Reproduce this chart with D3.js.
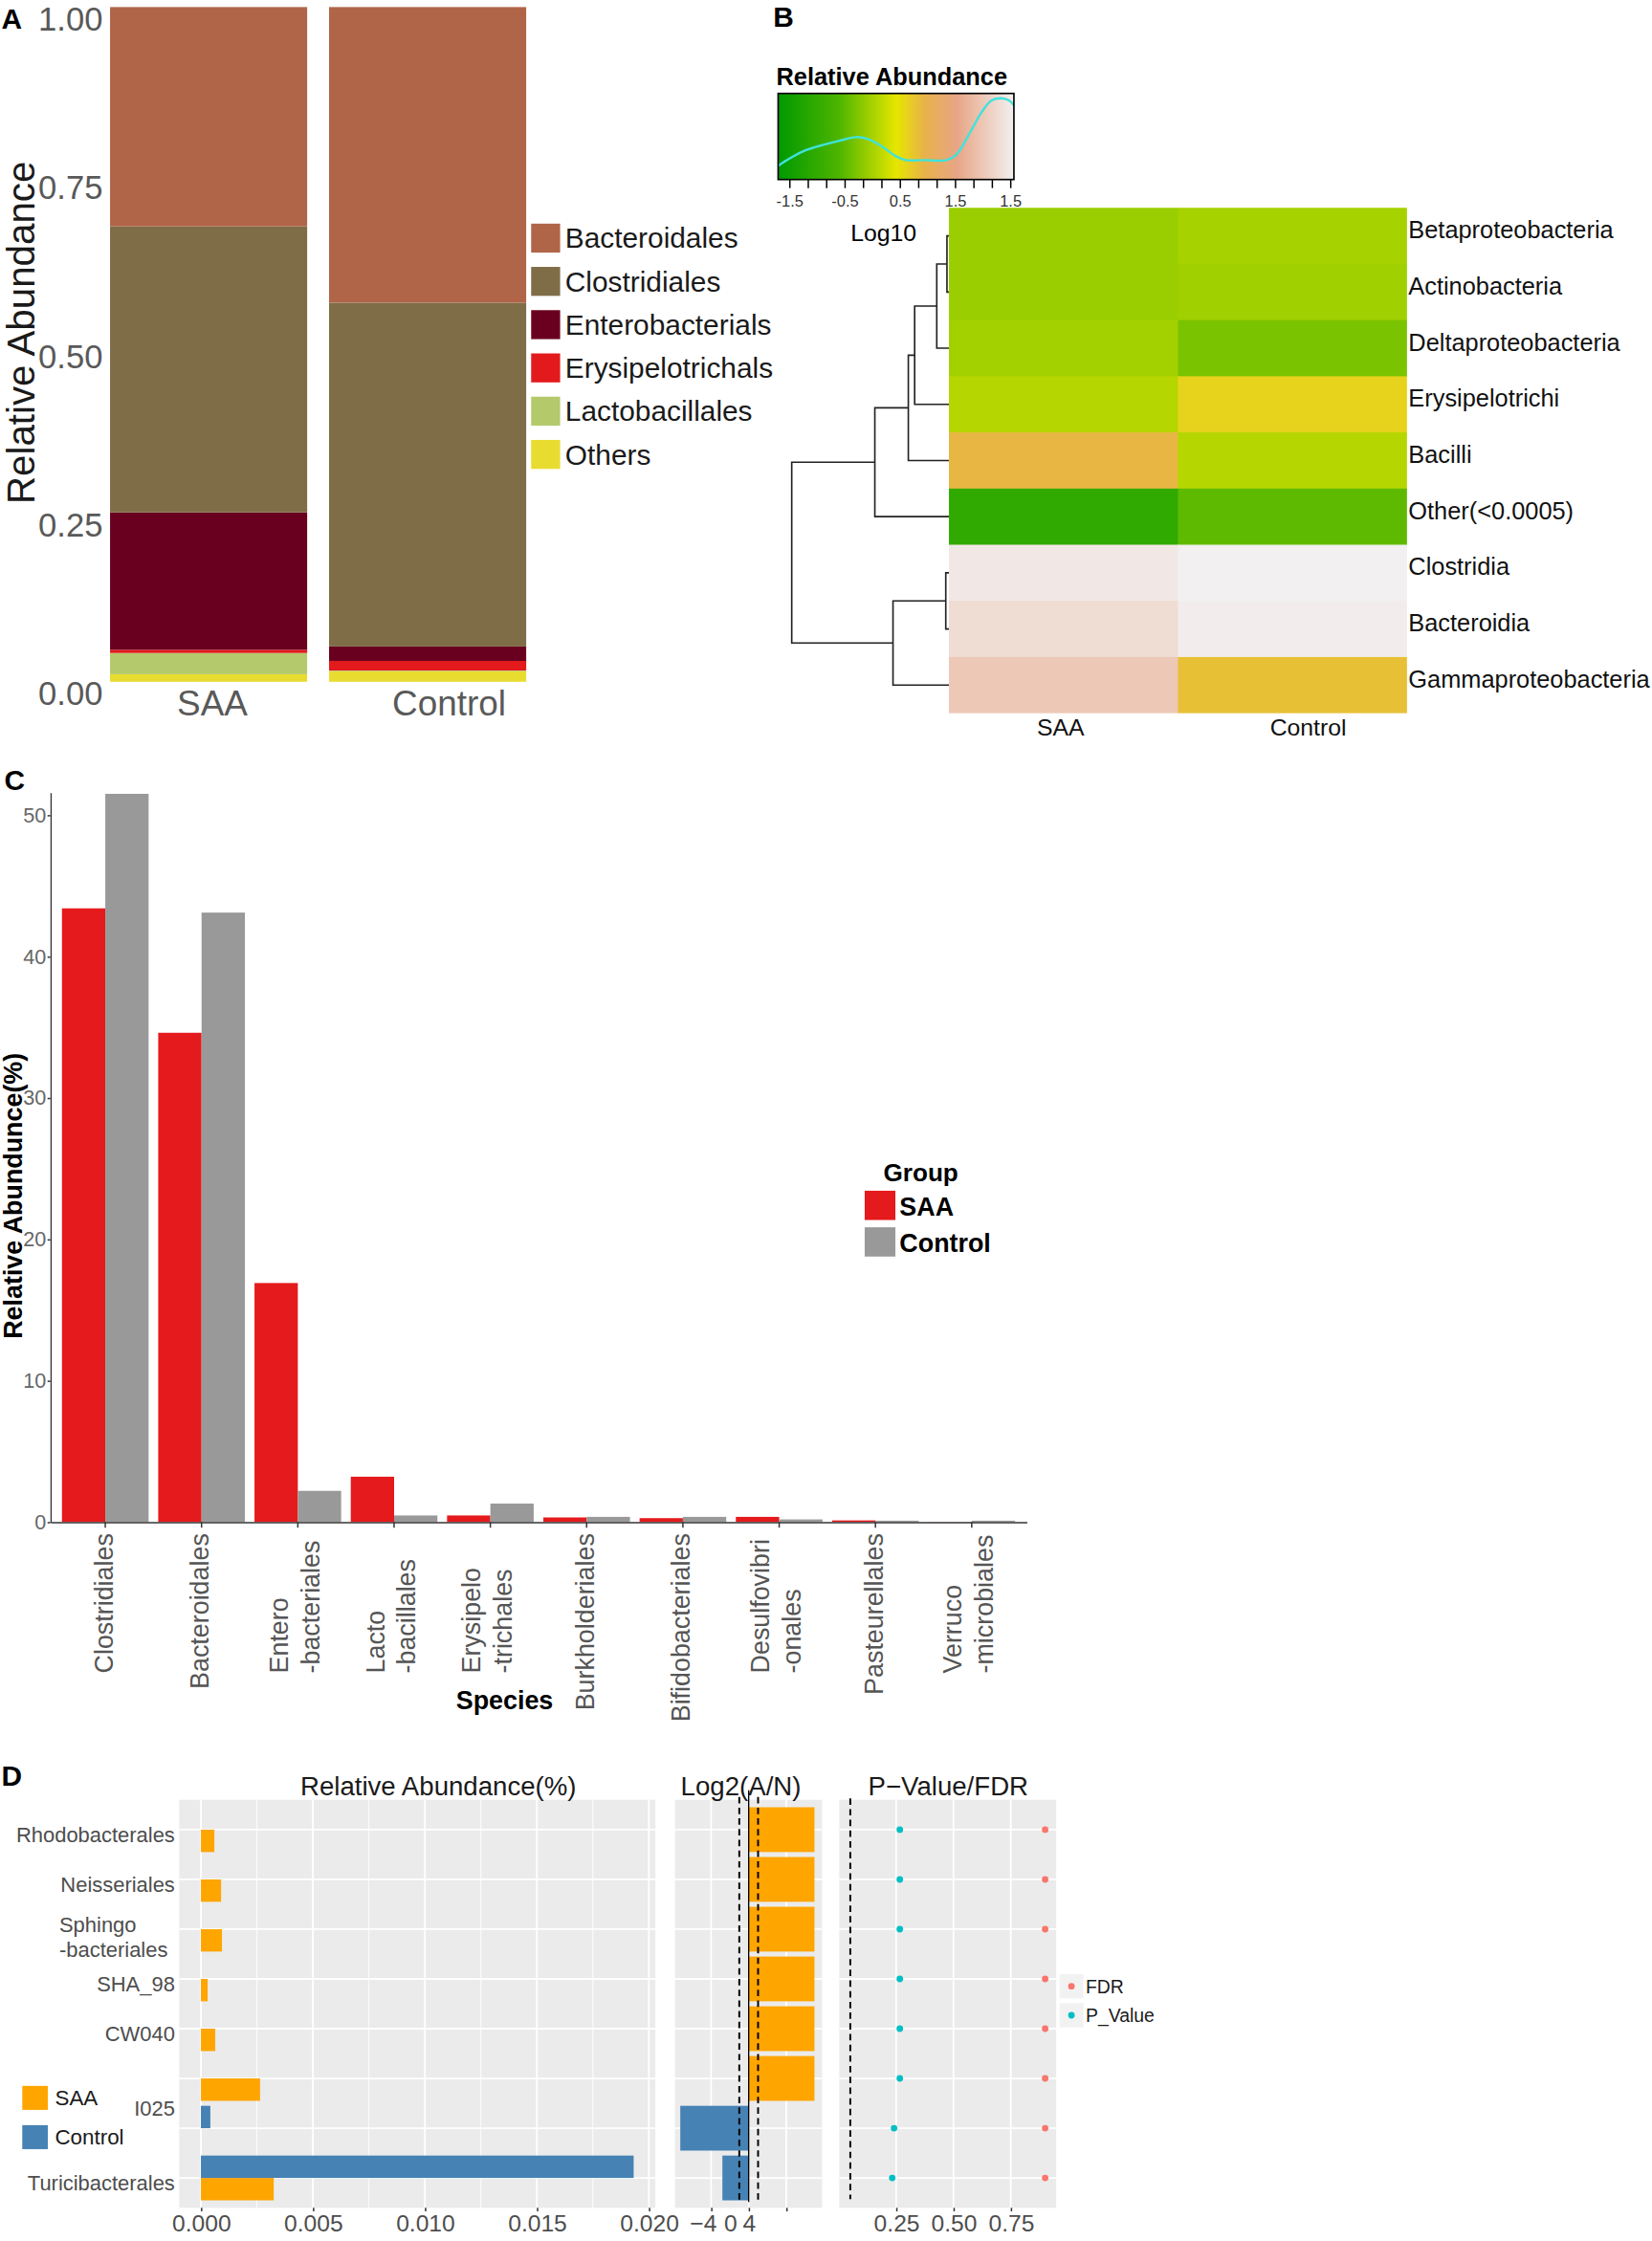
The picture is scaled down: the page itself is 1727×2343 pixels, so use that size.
<!DOCTYPE html>
<html>
<head>
<meta charset="utf-8">
<script src="https://cdn.jsdelivr.net/npm/d3@7"></script>
<style>
  body { margin: 0; background: #fff; }
  svg text { font-family: "Liberation Sans", Arial, Helvetica, sans-serif; }
</style>
</head>
<body>
<svg id="fig" width="1727" height="2343" viewBox="0 0 1157 1569.6"></svg>
<script>
// ---------- A : stacked relative abundance (order level)
const aGroups = ['SAA', 'Control']
const aOrders = ['Bacteroidales', 'Clostridiales', 'Enterobacterials', 'Erysipelotrichals', 'Lactobacillales', 'Others']
const aColors = ['#b06548', '#7f6d48', '#6a0020', '#e31a1c', '#b4c96b', '#e9dc30']
const aSAA = [0.325, 0.424, 0.2036, 0.0047, 0.0315, 0.0112]
const aControl = [0.4382, 0.5095, 0.0214, 0.0142, 0.001, 0.0157]
const aTicks = [0, 0.25, 0.5, 0.75, 1]

// ---------- B : class level heatmap (log10 key units)
const bRows = ['Betaproteobacteria', 'Actinobacteria', 'Deltaproteobacteria', 'Erysipelotrichi', 'Bacilli',
  'Other(<0.0005)', 'Clostridia', 'Bacteroidia', 'Gammaproteobacteria']
const bCols = ['SAA', 'Control']
const bSAA = [-0.08, -0.08, -0.015, 0.107, 0.9, -1.02, 2.46, 2.29, 2.02]
const bControl = [0.005, -0.036, -0.294, 0.63, 0.107, -0.485, 2.57, 2.53, 0.81]
const bKeyStops = [-1.7, -0.6, 0.44, 0.95, 1.53, 2.57]
const bKeyColors = ['#009900', '#4db500', '#e6e600', '#e8b24a', '#e8a585', '#f2f0f0']
const bKeyLabelAt = [-1.5, -0.5, 0.5, 1.5, 2.5]
const bKeyLabels = ['-1.5', '-0.5', '0.5', '1.5', '1.5']
const bDensX = [-1.702, -1.471, -1.183, -0.894, -0.605, -0.288, -0.086, 0.145, 0.434, 0.607, 0.953, 1.357, 1.53, 1.761, 1.992, 2.165, 2.338, 2.483, 2.569]
const bDensY = [0.159, 0.252, 0.344, 0.4, 0.448, 0.493, 0.474, 0.4, 0.27, 0.226, 0.226, 0.226, 0.289, 0.53, 0.789, 0.919, 0.944, 0.919, 0.863]
// hclust style: negative = leaf (row index + 1), positive = earlier merge
const bMerge = [[-1, -2], [1, -3], [2, -4], [3, -5], [4, -6], [-7, -8], [6, -9], [5, 7]]
const bHeight = [0.025, 0.154, 0.434, 0.514, 0.938, 0.04, 0.708, 1.99]

// ---------- C : top orders, grouped bars (%)
const cSpecies = ['Clostridiales', 'Bacteroidales', 'Enterobacteriales', 'Lactobacillales', 'Erysipelotrichales',
  'Burkholderiales', 'Bifidobacteriales', 'Desulfovibrionales', 'Pasteurellales', 'Verrucomicrobiales']
const cLabels = [['Clostridiales'], ['Bacteroidales'], ['Entero', '-bacteriales'], ['Lacto', '-bacillales'],
  ['Erysipelo', '-trichales'], ['Burkholderiales'], ['Bifidobacteriales'], ['Desulfovibri', '-onales'],
  ['Pasteurellales'], ['Verruco', '-microbiales']]
const cGroups = ['SAA', 'Control']
const cColors = ['#e41a1c', '#999999']
const cSAA = [43.4, 34.6, 16.9, 3.2, 0.46, 0.32, 0.27, 0.36, 0.11, 0.01]
const cControl = [51.5, 43.1, 2.2, 0.46, 1.3, 0.36, 0.36, 0.18, 0.09, 0.09]
const cTicks = [0, 10, 20, 30, 40, 50]

// ---------- D : differential orders
const dRows = ['Rhodobacterales', 'Neisseriales', 'Sphingobacteriales', 'SHA_98', 'CW040', 'I025 a', 'I025 b', 'Turicibacterales']
const dLabels = [['Rhodobacterales'], ['Neisseriales'], ['Sphingo', '-bacteriales'], ['SHA_98'], ['CW040'], ['I025'], ['Turicibacterales']]
const dLabelRows = [[0], [1], [2], [3], [4], [5, 6], [7]]
const dGroups = ['SAA', 'Control']
const dColors = ['#ffa500', '#4682b4']
const dSAA = [0.0006, 0.0009, 0.00094, 0.0003, 0.00064, 0.00264, 0, 0.00325]
const dControl = [0, 0, 0, 0, 0, 0, 0.00042, 0.01932]
const dLog2 = [7, 7, 7, 7, 7, 7, -7.28, -2.8]
const dLog2Cut = [-1, 1]
const dPValue = [0.266, 0.266, 0.266, 0.266, 0.266, 0.266, 0.241, 0.233]
const dFDR = [0.9, 0.9, 0.9, 0.9, 0.9, 0.9, 0.9, 0.9]
const dPCut = 0.05
const dRaTicks = [0, 0.005, 0.01, 0.015, 0.02]
const dRaMinor = [0.0025, 0.0075, 0.0125, 0.0175]
const dLogTicks = [-4, 0, 4]
const dLogLabelAt = [-4.9, -2.0, 0]
const dLogLabels = ['\u22124', '0', '4']
const dPTicks = [0.25, 0.5, 0.75]
const dPColors = ['#f8766d', '#00bfc4']

const svg = d3.select('#fig')

function label(g, x, y, s, size, o = {}) {
  return g.append('text').attr('x', x).attr('y', y).text(s)
    .attr('font-size', size)
    .attr('fill', o.fill || '#1a1a1a')
    .attr('font-weight', o.bold ? 'bold' : null)
    .attr('text-anchor', o.anchor || 'start')
    .attr('dominant-baseline', o.base || 'central')
    .attr('transform', o.transform || null)
}

// ================= A =================
const gA = svg.append('g')
const xA = d3.scaleBand().domain(aGroups).range([69.4, 376.2]).paddingInner(0.1).paddingOuter(0.05)
const yA = d3.scaleLinear().domain([0, 1]).range([477.5, 4.9])
const aColor = d3.scaleOrdinal().domain(aOrders).range(aColors)
const aTable = aGroups.map((g, i) => {
  const vals = i === 0 ? aSAA : aControl
  const r = { group: g }
  aOrders.forEach((o, j) => { r[o] = vals[j] })
  return r
})
const aStack = d3.stack().keys(aOrders.slice().reverse())(aTable)
gA.selectAll('g.layer').data(aStack).join('g').attr('class', 'layer')
  .attr('fill', s => aColor(s.key))
  .selectAll('rect').data(s => s).join('rect')
  .attr('x', d => xA(d.data.group))
  .attr('width', xA.bandwidth())
  .attr('y', d => yA(d[1]))
  .attr('height', d => yA(d[0]) - yA(d[1]))

const axAy = gA.append('g').attr('transform', 'translate(75,8.5)')
  .call(d3.axisLeft(yA).tickValues(aTicks).tickFormat(d3.format('.2f')).tickSize(0).tickPadding(3))
axAy.select('.domain').remove()
axAy.selectAll('text').attr('font-size', 23.2).attr('fill', '#595959')

// category labels sit a little right of the bar centres in the original
const aNudge = { SAA: 2.6, Control: 15 }
const axAx = gA.append('g').attr('transform', `translate(0,${yA(0)})`)
  .call(d3.axisBottom(xA).tickSize(0).tickPadding(6))
axAx.select('.domain').remove()
axAx.selectAll('text').attr('font-size', 24.7).attr('fill', '#595959').attr('dx', d => aNudge[d])

label(gA, 0, 0, 'Relative Abundance', 27, { anchor: 'middle', transform: 'translate(15,233) rotate(-90)' })
label(gA, 1, 13, 'A', 20, { bold: true, fill: '#000' })

aOrders.forEach((o, i) => {
  const cy = 166.7 + i * 30.3
  gA.append('rect').attr('x', 372).attr('y', cy - 10.1).attr('width', 20.3).attr('height', 20.3).attr('fill', aColor(o))
  label(gA, 395.8, cy, o, 20)
})

// ================= B =================
const gB = svg.append('g')
label(gB, 541.5, 11.7, 'B', 20, { bold: true, fill: '#000' })
const xB = d3.scaleBand().domain(bCols).range([664.6, 985.4])
const yB = d3.scaleBand().domain(bRows).range([145.5, 499.5])
const heat = d3.scaleLinear().domain(bKeyStops).range(bKeyColors).clamp(true)
const cells = []
bRows.forEach((r, i) => {
  cells.push({ row: r, col: 'SAA', v: bSAA[i] }, { row: r, col: 'Control', v: bControl[i] })
})
gB.selectAll('rect.cell').data(cells).join('rect').attr('class', 'cell')
  .attr('x', d => xB(d.col)).attr('y', d => yB(d.row))
  .attr('width', d => xB.bandwidth() + (d.col === 'SAA' ? 0.5 : 0))
  .attr('height', d => yB.bandwidth() + (d.row === bRows[bRows.length - 1] ? 0 : 0.5))
  .attr('fill', d => heat(d.v))

const axBr = gB.append('g').attr('transform', `translate(${xB.range()[1]},-3.7)`)
  .call(d3.axisRight(yB).tickSize(0).tickPadding(1))
axBr.select('.domain').remove()
axBr.selectAll('text').attr('font-size', 17).attr('fill', '#111')

const bNudge = { SAA: -2, Control: 11 }
const axBc = gB.append('g').attr('transform', `translate(0,${yB.range()[1]})`)
  .call(d3.axisBottom(xB).tickSize(0).tickPadding(4))
axBc.select('.domain').remove()
axBc.selectAll('text').attr('font-size', 16.6).attr('fill', '#111').attr('dx', d => bNudge[d])

// dendrogram
const xDen = d3.scaleLinear().domain([0, d3.max(bHeight)]).range([664.6, 554.5])
const dNodes = []
const nodePos = ref => ref < 0
  ? { x: xDen(0), y: yB(bRows[-ref - 1]) + yB.bandwidth() / 2 }
  : dNodes[ref - 1]
bMerge.forEach((m, i) => {
  const a = nodePos(m[0]), b = nodePos(m[1]), x = xDen(bHeight[i])
  gB.append('path').attr('d', `M${a.x},${a.y}H${x}V${b.y}H${b.x}`)
    .attr('fill', 'none').attr('stroke', '#222').attr('stroke-width', 1.1)
  dNodes.push({ x, y: (a.y + b.y) / 2 })
})

// colour key
const keyX = d3.scaleLinear().domain([-1.5, 2.5]).range([552.7, 707.4])
const keyY = d3.scaleLinear().domain([0, 1]).range([125.7, 65.4])
const kMin = bKeyStops[0], kMax = bKeyStops[bKeyStops.length - 1]
const defs = svg.append('defs')
const grad = defs.append('linearGradient').attr('id', 'keyGrad')
bKeyStops.forEach((v, i) => {
  grad.append('stop').attr('offset', (v - kMin) / (kMax - kMin)).attr('stop-color', bKeyColors[i])
})
defs.append('clipPath').attr('id', 'keyClip').append('rect')
  .attr('x', keyX(kMin)).attr('y', keyY(1)).attr('width', keyX(kMax) - keyX(kMin)).attr('height', keyY(0) - keyY(1))
gB.append('rect').attr('x', keyX(kMin)).attr('y', keyY(1))
  .attr('width', keyX(kMax) - keyX(kMin)).attr('height', keyY(0) - keyY(1))
  .attr('fill', 'url(#keyGrad)')
gB.append('path').datum(bDensX.map((x, i) => [x, bDensY[i]]))
  .attr('clip-path', 'url(#keyClip)')
  .attr('d', d3.line().x(d => keyX(d[0])).y(d => keyY(d[1])).curve(d3.curveCatmullRom))
  .attr('fill', 'none').attr('stroke', '#3fe3dc').attr('stroke-width', 1.6)
gB.append('rect').attr('x', keyX(kMin)).attr('y', keyY(1))
  .attr('width', keyX(kMax) - keyX(kMin)).attr('height', keyY(0) - keyY(1))
  .attr('fill', 'none').attr('stroke', '#000').attr('stroke-width', 1.1)
const keyTicks = d3.range(13).map(i => -1.5 + i / 3)
const axKey = gB.append('g').attr('transform', `translate(0,${keyY(0)})`)
  .call(d3.axisBottom(keyX).tickValues(keyTicks).tickSize(6).tickPadding(5)
    .tickFormat(d => {
      const k = bKeyLabelAt.findIndex(v => Math.abs(v - d) < 1e-6)
      return k >= 0 ? bKeyLabels[k] : ''
    }))
axKey.select('.domain').remove()
axKey.selectAll('line').attr('stroke', '#000').attr('stroke-width', 1)
axKey.selectAll('text').attr('font-size', 11).attr('fill', '#333')
label(gB, 543.7, 53.6, 'Relative Abundance', 17, { bold: true, fill: '#000' })
label(gB, 618.8, 163, 'Log10', 16.6, { anchor: 'middle', fill: '#000' })

// ================= C =================
const gC = svg.append('g')
label(gC, 3, 546.5, 'C', 20, { bold: true, fill: '#000' })
const xC = d3.scaleBand().domain(cSpecies).range([35.3, 719]).paddingInner(0.1).paddingOuter(0.12)
const xCg = d3.scaleBand().domain(cGroups).range([0, xC.bandwidth()])
const yC = d3.scaleLinear().domain([0, 51.6]).range([1066, 555])
const cColor = d3.scaleOrdinal().domain(cGroups).range(cColors)
const cBars = []
cSpecies.forEach((s, i) => {
  cBars.push({ sp: s, g: 'SAA', v: cSAA[i] }, { sp: s, g: 'Control', v: cControl[i] })
})
gC.selectAll('rect.bar').data(cBars).join('rect').attr('class', 'bar')
  .attr('x', d => xC(d.sp) + xCg(d.g)).attr('width', xCg.bandwidth())
  .attr('y', d => yC(d.v)).attr('height', d => yC(0) - yC(d.v))
  .attr('fill', d => cColor(d.g))

const axCy = gC.append('g').attr('transform', 'translate(35.3,0)')
  .call(d3.axisLeft(yC).tickValues(cTicks).tickSize(2).tickSizeOuter(0).tickPadding(1))
axCy.select('.domain').attr('stroke', '#333').attr('stroke-width', 0.9)
axCy.selectAll('line').attr('stroke', '#333')
axCy.selectAll('text').attr('font-size', 14.5).attr('fill', '#666')

const axCx = gC.append('g').attr('transform', `translate(0,${yC(0)})`)
  .call(d3.axisBottom(xC).tickSize(4).tickSizeOuter(0).tickFormat(''))
axCx.select('.domain').attr('stroke', '#333').attr('stroke-width', 0.9)
axCx.selectAll('line').attr('stroke', '#333')

cSpecies.forEach((s, i) => {
  const lines = cLabels[i]
  const n = lines.length
  const cx = xC(s) + xC.bandwidth() / 2
  const y0 = n === 1 ? 1074 : 1172
  lines.forEach((t, j) => {
    const off = 5 + (j - (n - 1) / 2) * 22 - (n - 1)
    gC.append('text').text(t)
      .attr('transform', `translate(${cx + off},${y0}) rotate(-90)`)
      .attr('text-anchor', n === 1 ? 'end' : 'start')
      .attr('font-size', 18).attr('fill', '#555')
  })
})
label(gC, 353.4, 1191, 'Species', 18, { bold: true, anchor: 'middle', fill: '#000' })
label(gC, 0, 0, 'Relative Abundunce(%)', 18, { bold: true, anchor: 'middle', fill: '#000', transform: 'translate(9.5,837.6) rotate(-90)' })

label(gC, 618.7, 821, 'Group', 17.5, { bold: true, fill: '#000' })
cGroups.forEach((g, i) => {
  const top = 834 + i * 25.6
  gC.append('rect').attr('x', 605.6).attr('y', top).attr('width', 21.5).attr('height', 20.5).attr('fill', cColor(g))
  label(gC, 630, top + 11.5, g, 18, { bold: true, fill: '#000' })
})

// ================= D =================
const gD = svg.append('g')
label(gD, 1, 1243.5, 'D', 20, { bold: true, fill: '#000' })
const pTop = 1260.6, pBot = 1546.4
const yD = d3.scalePoint().domain(dRows).range([pTop, pBot]).padding(0.6)
const stepD = yD.step()
const xD1 = d3.scaleLinear().domain([-0.00097, 0.02029]).range([125.5, 459])
const xD2 = d3.scaleLinear().domain([-7.85, 7.82]).range([472.7, 575.8])
const xD3 = d3.scaleLinear().domain([0.002, 0.948]).range([587.8, 739.7])
const dColor = d3.scaleOrdinal().domain(dGroups).range(dColors)

function facet(x, major, minor) {
  const [x0, x1] = x.range()
  const g = gD.append('g')
  g.append('rect').attr('x', x0).attr('y', pTop).attr('width', x1 - x0).attr('height', pBot - pTop).attr('fill', '#ebebeb')
  g.selectAll('line.mn').data(minor).join('line').attr('class', 'mn')
    .attr('x1', d => x(d)).attr('x2', d => x(d)).attr('y1', pTop).attr('y2', pBot)
    .attr('stroke', '#fff').attr('stroke-width', 0.6)
  g.selectAll('line.mj').data(major).join('line').attr('class', 'mj')
    .attr('x1', d => x(d)).attr('x2', d => x(d)).attr('y1', pTop).attr('y2', pBot)
    .attr('stroke', '#fff').attr('stroke-width', 1.2)
  g.selectAll('line.hr').data(dRows).join('line').attr('class', 'hr')
    .attr('x1', x0).attr('x2', x1).attr('y1', d => yD(d)).attr('y2', d => yD(d))
    .attr('stroke', '#fff').attr('stroke-width', 1.2)
  return g
}
function bottomAxis(x, ticks, fmt, noLabels) {
  const ax = gD.append('g').attr('transform', `translate(0,${pBot})`)
    .call(d3.axisBottom(x).tickValues(ticks).tickSize(2.5).tickPadding(2.5).tickFormat(noLabels ? '' : fmt))
  ax.select('.domain').remove()
  ax.selectAll('line').attr('stroke', '#333')
  ax.selectAll('text').attr('font-size', 16.5).attr('fill', '#4d4d4d')
  return ax
}

// facet 1 : relative abundance
const f1 = facet(xD1, dRaTicks, dRaMinor)
const dBars = []
dRows.forEach((r, i) => {
  if (dSAA[i] > 0) dBars.push({ row: r, g: 'SAA', v: dSAA[i] })
  if (dControl[i] > 0) dBars.push({ row: r, g: 'Control', v: dControl[i] })
})
f1.selectAll('rect.bar').data(dBars).join('rect').attr('class', 'bar')
  .attr('x', xD1(0)).attr('width', d => xD1(d.v) - xD1(0))
  .attr('y', d => d.g === 'SAA' ? yD(d.row) : yD(d.row) - 0.45 * stepD)
  .attr('height', 0.45 * stepD)
  .attr('fill', d => dColor(d.g))
bottomAxis(xD1, dRaTicks, d3.format('.3f'))
label(gD, 307, 1251, 'Relative Abundance(%)', 18.5, { anchor: 'middle' })

// facet 2 : log2 fold change
const f2 = facet(xD2, dLogTicks, [])
f2.selectAll('rect.bar').data(dRows).join('rect').attr('class', 'bar')
  .attr('x', (d, i) => Math.min(xD2(0), xD2(dLog2[i])))
  .attr('width', (d, i) => Math.abs(xD2(dLog2[i]) - xD2(0)))
  .attr('y', d => yD(d) - 0.45 * stepD).attr('height', 0.9 * stepD)
  .attr('fill', (d, i) => dLog2[i] > 0 ? dColor('SAA') : dColor('Control'))
f2.selectAll('line.cut').data(dLog2Cut).join('line').attr('class', 'cut')
  .attr('x1', d => xD2(d)).attr('x2', d => xD2(d)).attr('y1', pTop - 2).attr('y2', pBot - 5)
  .attr('stroke', '#000').attr('stroke-width', 1.3).attr('stroke-dasharray', '4.5,3')
f2.append('line').attr('x1', xD2(0)).attr('x2', xD2(0)).attr('y1', 1254).attr('y2', pBot - 4)
  .attr('stroke', '#000').attr('stroke-width', 0.9)
bottomAxis(xD2, dLogTicks, null, true)
const axLogLab = gD.append('g').attr('transform', `translate(0,${pBot})`)
  .call(d3.axisBottom(xD2).tickValues(dLogLabelAt).tickSize(0).tickPadding(5).tickFormat((d, i) => dLogLabels[i]))
axLogLab.select('.domain').remove()
axLogLab.selectAll('text').attr('font-size', 16.5).attr('fill', '#4d4d4d')
label(gD, 518.9, 1251, 'Log2(A/N)', 18.5, { anchor: 'middle' })

// facet 3 : p value / FDR
const f3 = facet(xD3, dPTicks, [])
f3.append('line').attr('x1', xD3(dPCut)).attr('x2', xD3(dPCut)).attr('y1', pTop - 1).attr('y2', pBot - 6)
  .attr('stroke', '#000').attr('stroke-width', 1.3).attr('stroke-dasharray', '4.5,3')
const pts = []
dRows.forEach((r, i) => {
  pts.push({ row: r, k: 'P_Value', v: dPValue[i] }, { row: r, k: 'FDR', v: dFDR[i] })
})
const pColor = d3.scaleOrdinal().domain(['FDR', 'P_Value']).range(dPColors)
f3.selectAll('circle').data(pts).join('circle')
  .attr('cx', d => xD3(d.v)).attr('cy', d => yD(d.row)).attr('r', 2.3)
  .attr('fill', d => pColor(d.k))
bottomAxis(xD3, dPTicks, d3.format('.2f'))
label(gD, 664.1, 1251, 'P\u2212Value/FDR', 18.5, { anchor: 'middle' })

// row labels
dLabels.forEach((lines, k) => {
  const cy = d3.mean(dLabelRows[k], j => yD(dRows[j])) + 3.5
  if (lines.length === 1) {
    label(gD, 122.5, cy, lines[0], 14.7, { anchor: 'end', fill: '#4d4d4d' })
  } else {
    const g = gD.append('g')
    lines.forEach((t, j) => {
      label(g, 0, cy + (j - (lines.length - 1) / 2) * 17.5 + 2.5, t, 14.7, { fill: '#4d4d4d' })
    })
    const w = d3.max(g.selectAll('text').nodes(), n => n.getComputedTextLength())
    g.attr('transform', `translate(${117.5 - w},0)`)
  }
})

// group legend (left)
dGroups.forEach((g, i) => {
  const top = 1461 + i * 27.5
  gD.append('rect').attr('x', 15.6).attr('y', top).attr('width', 17.9).attr('height', 16.8).attr('fill', dColor(g))
  label(gD, 38.5, top + 8.4, g, 15)
})

// point legend (right)
;['FDR', 'P_Value'].forEach((k, i) => {
  const top = 1382.7 + i * 20.3
  gD.append('rect').attr('x', 742.1).attr('y', top).attr('width', 16.7).attr('height', 17).attr('fill', '#f2f2f2')
  gD.append('circle').attr('cx', 750.4).attr('cy', top + 8.5).attr('r', 2.3).attr('fill', pColor(k))
  label(gD, 760.4, top + 8.5, k, 13)
})
</script>
</body>
</html>
